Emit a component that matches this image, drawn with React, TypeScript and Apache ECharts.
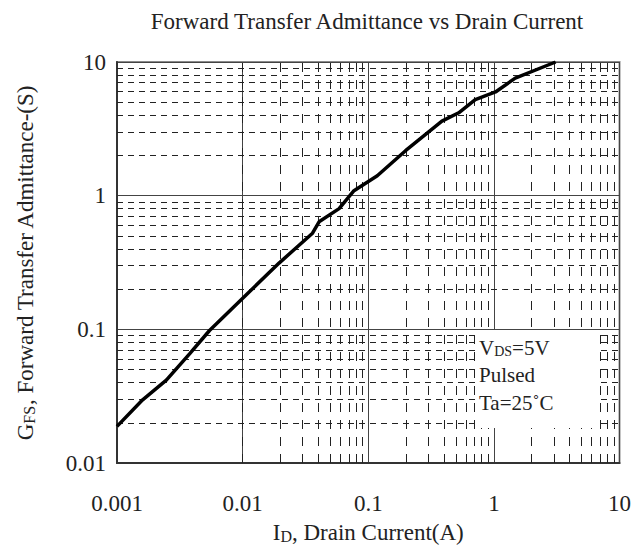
import React, { useEffect, useRef } from 'react';
import * as echarts from 'echarts';

const titleText = 'Forward Transfer Admittance vs Drain Current';
const xTickLabels = ['0.001', '0.01', '0.1', '1', '10'];
const yTickLabels = ['0.01', '0.1', '1', '10'];
const drainCurrent = [0.001, 0.0016, 0.00247, 0.00378, 0.00545, 0.0106, 0.0195, 0.036, 0.0406, 0.0586, 0.077, 0.118, 0.198, 0.386, 0.525, 0.711, 1.03, 1.48, 3.1];
const admittance = [0.0188, 0.0297, 0.0417, 0.0656, 0.098, 0.18, 0.313, 0.524, 0.638, 0.8, 1.09, 1.41, 2.17, 3.61, 4.17, 5.24, 5.97, 7.57, 10];
const minorMultipliers = [2, 3, 4, 5, 6, 7, 8, 9];
const xDecades = [0.001, 0.01, 0.1, 1];
const yDecades = [0.01, 0.1, 1];
const conditionLines = ['{a|V}{s|DS}{a|=5V}', '{a|Pulsed}', '{a|Ta=25˚C}'];

const FONT = 'Liberation Serif';

function pickLabel(labels: string[], v: number) {
  for (const l of labels) {
    const n = parseFloat(l);
    if (Math.abs(Math.log10(n) - Math.log10(v)) < 1e-6) return l;
  }
  return '';
}

export default function App() {
  const ref = useRef<HTMLDivElement>(null);
  useEffect(() => {
    if (!ref.current) return;
    const chart = echarts.init(ref.current, undefined, { renderer: 'svg' });
    const minorX: number[] = [];
    xDecades.forEach((d) => minorMultipliers.forEach((m) => minorX.push(d * m)));
    const minorY: number[] = [];
    yDecades.forEach((d) => minorMultipliers.forEach((m) => minorY.push(d * m)));
    const vDash = { type: [9, 8] as any, color: '#222', width: 1 };
    const hDash = { type: [6, 5] as any, color: '#222', width: 1 };
    const markData: any[] = [
      ...minorX.map((v) => ({ xAxis: v, lineStyle: vDash })),
      ...minorY.map((v) => ({ yAxis: v, lineStyle: hDash })),
    ];
    const textBase = { fontFamily: FONT, fontSize: 23, color: '#222' };
    chart.setOption({
      animation: false,
      backgroundColor: '#fff',
      grid: {
        left: 117, top: 62, right: 12, bottom: 82,
        show: true, borderColor: '#8a8a8a', borderWidth: 2, backgroundColor: 'transparent',
      },
      xAxis: {
        type: 'log', logBase: 10, min: 0.001, max: 10,
        axisLine: { show: true, lineStyle: { color: '#333', width: 2 } },
        axisTick: { show: false },
        axisLabel: {
          margin: 29, fontFamily: FONT, fontSize: 23, color: '#222',
          formatter: (v: number) => pickLabel(xTickLabels, v),
        },
        splitLine: { show: true, lineStyle: { color: '#444', width: 1 } },
        name: '{a|I}{s|D}{a|, Drain Current(A)}',
        nameLocation: 'middle',
        nameGap: 56,
        nameTextStyle: {
          rich: {
            a: { ...textBase, lineHeight: 25, verticalAlign: 'bottom' },
            s: { ...textBase, fontSize: 16, lineHeight: 18, verticalAlign: 'bottom' },
          },
        },
      },
      yAxis: {
        type: 'log', logBase: 10, min: 0.01, max: 10,
        axisLine: { show: true, lineStyle: { color: '#333', width: 2 } },
        axisTick: { show: false },
        axisLabel: {
          margin: 11, fontFamily: FONT, fontSize: 23, color: '#222',
          formatter: (v: number) => pickLabel(yTickLabels, v),
        },
        splitLine: { show: true, lineStyle: { color: '#444', width: 1 } },
        name: '{a|G}{s|FS}{a|, Forward Transfer Admittance-(S)}',
        nameLocation: 'middle',
        nameGap: 80,
        nameRotate: 90,
        nameTextStyle: {
          rich: {
            a: { ...textBase, lineHeight: 25, verticalAlign: 'bottom' },
            s: { ...textBase, fontSize: 16, lineHeight: 18, verticalAlign: 'bottom' },
          },
        },
      },
      series: [
        {
          type: 'line',
          data: [],
          z: 1,
          silent: true,
          markLine: {
            silent: true,
            symbol: ['none', 'none'],
            label: { show: false },
            animation: false,
            data: markData,
          },
        },
        {
          type: 'line',
          z: 5,
          data: drainCurrent.map((x, i) => [x, admittance[i]]),
          showSymbol: false,
          symbol: 'none',
          lineStyle: { color: '#000', width: 3.5 },
        },
      ],
      graphic: [
        {
          type: 'text', z: 11,
          x: 367, y: 21,
          style: {
            text: titleText,
            align: 'center',
            verticalAlign: 'middle',
            fontFamily: FONT,
            fontSize: 23,
            fill: '#222',
          },
        },
        {
          type: 'rect', z: 10,
          shape: { x: 477, y: 330, width: 120, height: 98 },
          style: { fill: '#fff' },
        },
        ...conditionLines.map((t, i) => ({
          type: 'text', z: 11,
          x: 479, y: 347 + i * 27.5,
          style: {
            text: t,
            verticalAlign: 'middle',
            rich: {
              a: { fontFamily: FONT, fontSize: 21, fill: '#222', lineHeight: 22, verticalAlign: 'bottom' },
              s: { fontFamily: FONT, fontSize: 14, fill: '#222', lineHeight: 15, verticalAlign: 'bottom' },
            },
          },
        })),
      ],
    });
    return () => chart.dispose();
  }, []);
  return <div ref={ref} style={{ position: 'fixed', left: 0, top: 0, width: 634, height: 549 }} />;
}
